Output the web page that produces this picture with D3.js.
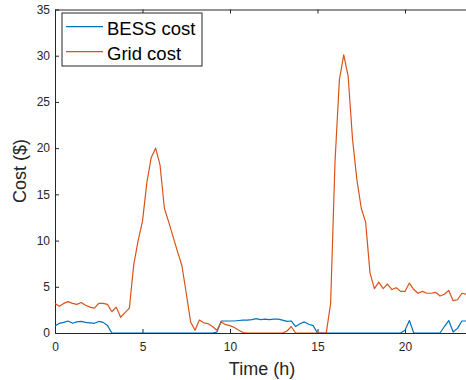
<!DOCTYPE html>
<html>
<head>
<meta charset="utf-8">
<script src="https://cdn.jsdelivr.net/npm/d3@7"></script>
<style>
  body { margin: 0; background: #fff; }
  svg { display: block; font-family: "Liberation Sans", Arial, Helvetica, sans-serif; }
</style>
</head>
<body>
<svg></svg>
<script>
// time of day in hours (15 min steps)
const hours = [
  0, 0.25, 0.5, 0.75, 1, 1.25, 1.5, 1.75, 2, 2.25, 2.5, 2.75,
  3, 3.25, 3.5, 3.75, 4, 4.25, 4.5, 4.75, 5, 5.25, 5.5, 5.75,
  6, 6.25, 6.5, 6.75, 7, 7.25, 7.5, 7.75, 8, 8.25, 8.5, 8.75,
  9, 9.25, 9.5, 9.75, 10, 10.25, 10.5, 10.75, 11, 11.25, 11.5, 11.75,
  12, 12.25, 12.5, 12.75, 13, 13.25, 13.5, 13.75, 14, 14.25, 14.5, 14.75,
  15, 15.25, 15.5, 15.75, 16, 16.25, 16.5, 16.75, 17, 17.25, 17.5, 17.75,
  18, 18.25, 18.5, 18.75, 19, 19.25, 19.5, 19.75, 20, 20.25, 20.5, 20.75,
  21, 21.25, 21.5, 21.75, 22, 22.25, 22.5, 22.75, 23, 23.25, 23.5, 23.75
];

const bessCost = [
  0.75, 1.05, 1.15, 1.3, 1.05, 1.2, 1.25, 1.15, 1.1, 1.05, 1.25, 1.15,
  0.8, 0, 0, 0, 0, 0, 0, 0, 0, 0, 0, 0,
  0, 0, 0, 0, 0, 0, 0, 0, 0, 0, 0, 0,
  0, 0.1, 1.3, 1.3, 1.3, 1.3, 1.35, 1.4, 1.4, 1.45, 1.55, 1.45,
  1.5, 1.45, 1.5, 1.5, 1.4, 1.25, 1.3, 0.7, 1.0, 1.2, 0.95, 0.8,
  0, 0, 0, 0, 0, 0, 0, 0, 0, 0, 0, 0,
  0, 0, 0, 0, 0, 0, 0, 0, 0.3, 1.35, 0, 0,
  0, 0, 0, 0, 0, 0.7, 1.35, 0.1, 0.5, 1.3, 1.3, 1.3
];

const gridCost = [
  3.2, 2.9, 3.2, 3.4, 3.2, 3.1, 3.3, 3.0, 2.8, 2.7, 3.2, 3.2,
  3.1, 2.3, 2.8, 1.7, 2.2, 2.7, 7.4, 10.0, 12.1, 16.3, 19.0, 20.0,
  18.2, 13.5, 12.0, 10.4, 8.8, 7.3, 4.3, 1.2, 0.3, 1.4, 1.1, 1.0,
  0.7, 0.3, 1.2, 0.9, 0.8, 0.6, 0.3, 0.05, 0, 0, 0, 0,
  0, 0, 0, 0, 0, 0.2, 0.7, 0, 0, 0, 0, 0,
  0, 0, 0, 3.2, 18.5, 27.4, 30.1, 27.8, 21.0, 16.6, 13.5, 12.0,
  6.5, 4.8, 5.5, 4.8, 5.3, 4.7, 4.9, 4.5, 4.5, 5.4, 4.7, 4.3,
  4.5, 4.3, 4.3, 4.4, 4.0, 4.2, 4.6, 3.5, 3.6, 4.3, 4.2, 4.1
];

const seriesNames = ['BESS cost', 'Grid cost'];
const xTicks = [0, 5, 10, 15, 20];
const yTicks = [0, 5, 10, 15, 20, 25, 30, 35];

const width = 466, height = 380;
const margin = { left: 55, top: 9.5, bottom: 333, right: 475 };
const axisColor = '#262626';
const colors = ['#0072BD', '#D95319'];

const svg = d3.select('svg')
    .attr('width', width)
    .attr('height', height);

const x = d3.scaleLinear().domain([0, 24]).range([margin.left, margin.right]);
const y = d3.scaleLinear().domain([0, 35]).range([margin.bottom, margin.top]);

svg.append('defs').append('clipPath')
    .attr('id', 'plot-clip')
    .append('rect')
    .attr('x', margin.left).attr('y', margin.top)
    .attr('width', margin.right - margin.left).attr('height', margin.bottom - margin.top);

// axes (MATLAB box style, ticks pointing inward)
const xAxis = svg.append('g')
    .attr('transform', `translate(0, ${margin.bottom})`)
    .call(d3.axisBottom(x).tickValues(xTicks).tickSizeInner(-4).tickSizeOuter(0).tickPadding(9));

const xTop = svg.append('g')
    .attr('transform', `translate(0, ${margin.top})`)
    .call(d3.axisTop(x).tickValues(xTicks).tickSizeInner(-4).tickSizeOuter(0).tickFormat(''));

const yAxis = svg.append('g')
    .attr('transform', `translate(${margin.left}, 0)`)
    .call(d3.axisLeft(y).tickValues(yTicks).tickSizeInner(-4).tickSizeOuter(0).tickPadding(5));

[xAxis, xTop, yAxis].forEach(g => {
    g.select('.domain').attr('stroke', axisColor).attr('stroke-width', 1);
    g.selectAll('.tick line').attr('stroke', axisColor).attr('stroke-width', 1);
    g.selectAll('.tick text').attr('fill', axisColor).style('font-size', '12px')
        .style('font-family', '"Liberation Sans", Arial, Helvetica, sans-serif');
});

// lines
const line = d3.line()
    .x((d, i) => x(hours[i]))
    .y(d => y(d));

const plot = svg.append('g').attr('clip-path', 'url(#plot-clip)');
[bessCost, gridCost].forEach((s, i) => {
    plot.append('path')
        .datum(s)
        .attr('fill', 'none')
        .attr('stroke', colors[i])
        .attr('stroke-width', 1.2)
        .attr('stroke-linejoin', 'round')
        .attr('d', line);
});

// axis titles
svg.append('text')
    .attr('x', 262)
    .attr('y', 375)
    .attr('text-anchor', 'middle')
    .attr('fill', axisColor)
    .style('font-size', '18px')
    .text('Time (h)');

svg.append('text')
    .attr('transform', 'rotate(-90)')
    .attr('x', -171)
    .attr('y', 26)
    .attr('text-anchor', 'middle')
    .attr('fill', axisColor)
    .style('font-size', '18px')
    .text('Cost ($)');

// legend
const legend = svg.append('g');
legend.append('rect')
    .attr('x', 62).attr('y', 13)
    .attr('width', 140).attr('height', 53)
    .attr('fill', '#fff')
    .attr('stroke', axisColor)
    .attr('stroke-width', 1);

seriesNames.forEach((name, i) => {
    const ly = 26.7 + i * 25;
    legend.append('line')
        .attr('x1', 66).attr('x2', 103)
        .attr('y1', ly).attr('y2', ly)
        .attr('stroke', colors[i])
        .attr('stroke-width', 1.2);
    legend.append('text')
        .attr('x', 107)
        .attr('y', ly + 8.5)
        .attr('fill', '#000')
        .style('font-size', '18.5px')
        .text(name);
});
</script>
</body>
</html>
